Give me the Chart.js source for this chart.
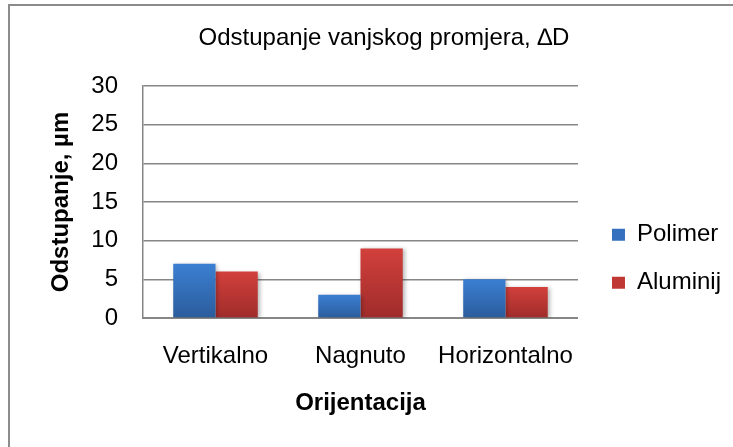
<!DOCTYPE html>
<html>
<head>
<meta charset="utf-8">
<title>Odstupanje vanjskog promjera</title>
<script src="https://cdn.jsdelivr.net/npm/chart.js@4/dist/chart.umd.min.js"></script>
<style>
  html, body { margin: 0; padding: 0; background: #fff; overflow: hidden; }
  #okvir {
    position: absolute; left: 8px; top: 4px; width: 800px; height: 500px;
    border-left: 2px solid #8c8c8c; border-top: 2px solid #8c8c8c;
  }
  #wrap { position: absolute; left: 0; top: 0; width: 733px; height: 447px; }
</style>
</head>
<body>
<div id="okvir"></div>
<div id="wrap"><canvas id="mycanvas"></canvas></div>
<script>
// podaci
var orijentacija = ['Vertikalno', 'Nagnuto', 'Horizontalno'];
var polimer = [7, 3, 5];
var aluminij = [6, 9, 4];
var yMin = 0, yMax = 30, yKorak = 5;

var plavaGore = '#3b7fd2', plavaDolje = '#2b5c9c';
var crvenaGore = '#d2403c', crvenaDolje = '#9f2c2a';

Chart.defaults.font.family = '"Liberation Sans", Arial, sans-serif';
Chart.defaults.font.size = 24;
Chart.defaults.color = '#000';

// gradijent od vrha do dna svakog stupca
function gradijent(gore, dolje) {
    return function (context) {
        var chart = context.chart;
        if (!chart.chartArea || context.raw === undefined) return gore;
        var y = chart.scales.y;
        var g = chart.ctx.createLinearGradient(0, y.getPixelForValue(context.raw), 0, y.getPixelForValue(0));
        g.addColorStop(0, gore);
        g.addColorStop(1, dolje);
        return g;
    };
}

// legenda malo udesno i dolje
var pomakLegende = {
    id: 'pomakLegende',
    afterLayout: function (chart) {
        chart.legend.left += 10;
        chart.legend.right += 10;
        chart.legend.top += 45;
        chart.legend.bottom += 45;
    }
};

// blaga sjena iza stupaca
var sjena = {
    id: 'sjena',
    beforeDatasetsDraw: function (chart) {
        var ctx = chart.ctx;
        ctx.save();
        ctx.shadowColor = 'rgba(0,0,0,0.28)';
        ctx.shadowBlur = 4;
        ctx.shadowOffsetX = 2;
        ctx.shadowOffsetY = 1;
    },
    afterDatasetsDraw: function (chart) {
        chart.ctx.restore();
    }
};

var chartdata = {
    labels: orijentacija,
    datasets: [
        {
            label: 'Polimer',
            data: polimer,
            backgroundColor: gradijent(plavaGore, plavaDolje),
            legendColor: '#3470bd'
        },
        {
            label: 'Aluminij',
            data: aluminij,
            backgroundColor: gradijent(crvenaGore, crvenaDolje),
            legendColor: '#bf3834'
        }
    ]
};

var barGraph = new Chart(document.getElementById('mycanvas'), {
    type: 'bar',
    data: chartdata,
    plugins: [pomakLegende, sjena],
    options: {
        responsive: true,
        maintainAspectRatio: false,
        animation: false,
        layout: { padding: { left: 47, right: 12, top: 10, bottom: 29.6 } },
        datasets: { bar: { categoryPercentage: 0.583, barPercentage: 1 } },
        plugins: {
            title: {
                display: true,
                text: 'Odstupanje vanjskog promjera, \u2206D',
                font: { size: 24, weight: 'normal' },
                padding: { top: 13.6, bottom: 33.6 }
            },
            legend: {
                position: 'right',
                maxWidth: 146,
                labels: {
                    boxWidth: 13,
                    boxHeight: 12,
                    padding: 24,
                    font: { size: 24 },
                    generateLabels: function (chart) {
                        var items = Chart.defaults.plugins.legend.labels.generateLabels(chart);
                        items.forEach(function (it) {
                            it.fillStyle = chart.data.datasets[it.datasetIndex].legendColor;
                            it.strokeStyle = it.fillStyle;
                            it.lineWidth = 0;
                        });
                        return items;
                    }
                }
            },
            tooltip: { enabled: false }
        },
        scales: {
            x: {
                grid: { display: false, drawTicks: false },
                border: { display: true, color: '#868686', width: 2 },
                ticks: { padding: 24, font: { size: 24 } },
                title: {
                    display: true,
                    text: 'Orijentacija',
                    font: { size: 24, weight: 'bold' },
                    padding: 0
                },
                afterFit: function (scale) { scale.height = 99.4; }
            },
            y: {
                min: yMin,
                max: yMax,
                grid: { color: '#868686', lineWidth: 1.5, drawTicks: false },
                border: { display: true, color: '#868686', width: 1.5 },
                ticks: { stepSize: yKorak, padding: 25, font: { size: 24 } },
                title: {
                    display: true,
                    text: 'Odstupanje, \u00b5m',
                    font: { size: 24, weight: 'bold' },
                    padding: 0
                },
                afterFit: function (scale) { scale.width = 96; }
            }
        }
    }
});
</script>
</body>
</html>
